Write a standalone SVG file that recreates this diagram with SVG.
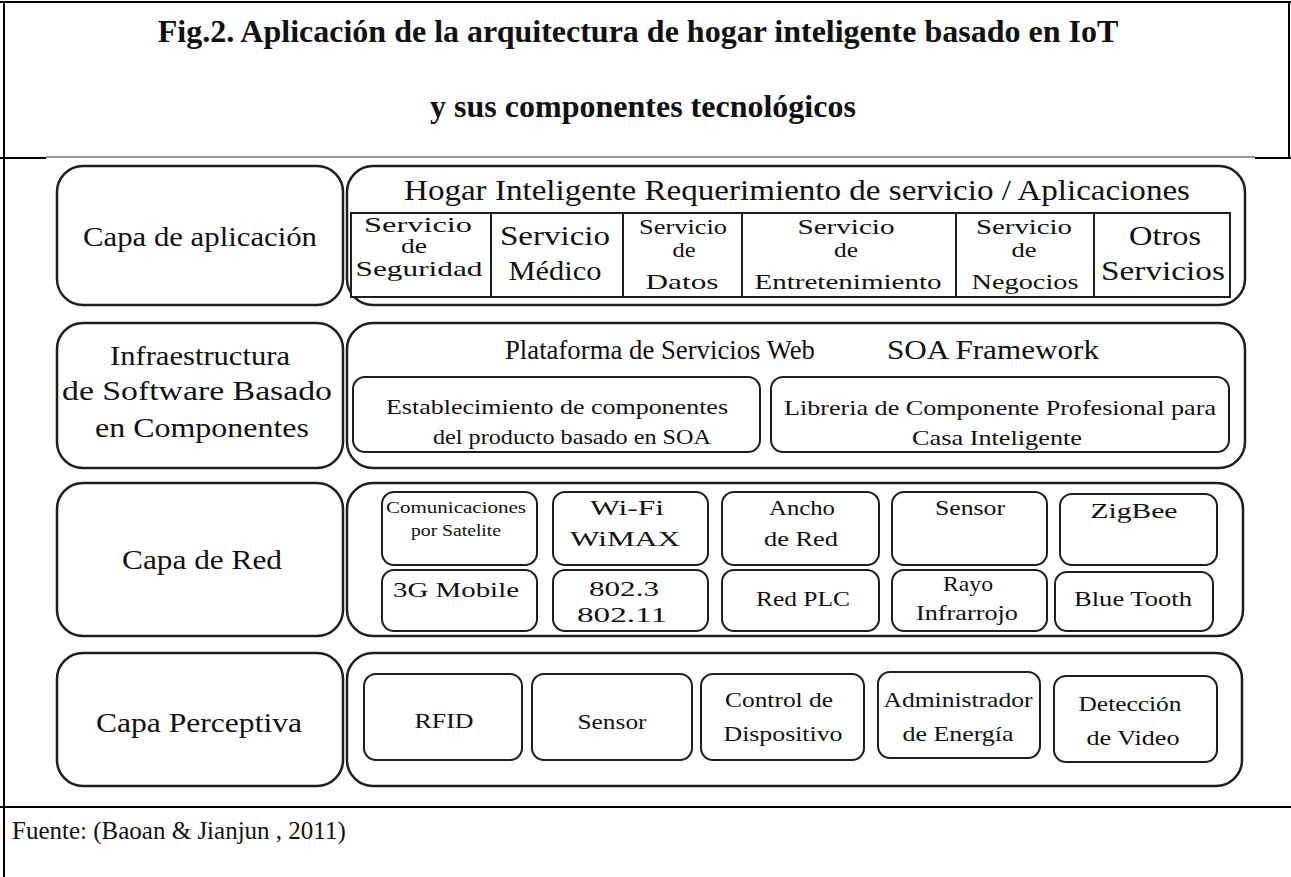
<svg xmlns="http://www.w3.org/2000/svg" width="1291" height="877" viewBox="0 0 1291 877">
<style>
.t{font-family:"Times New Roman","Liberation Serif",Tinos,"DejaVu Serif",serif;fill:#111;text-anchor:middle}
.c{font-family:"Times New Roman","Liberation Serif",Tinos,"DejaVu Serif",serif;fill:#111}
.b{font-weight:bold;font-size:32px}
.L{font-size:28px}
.M{font-size:22px}
.outer{fill:#fff;stroke:#1e1e1e;stroke-width:2.5}
.cell{fill:#fff;stroke:#1e1e1e;stroke-width:2}
.rule{stroke:#000;stroke-width:2}
</style>
<rect width="1291" height="877" fill="#fff"/>
<g id="frame">
<line class="rule" x1="0" y1="2" x2="1291" y2="2"/>
<line class="rule" x1="4" y1="2" x2="4" y2="877"/>
<line class="rule" x1="1289" y1="2" x2="1289" y2="157"/>
<line class="rule" x1="0" y1="158" x2="1291" y2="158"/>
<line class="rule" x1="0" y1="807" x2="1291" y2="807"/>
</g>
<g id="title">
<text class="t b" x="638" y="42">Fig.2. Aplicación de la arquitectura de hogar inteligente basado en IoT</text>
<text class="t b" x="643" y="117">y sus componentes tecnológicos</text>
</g>
<rect x="46" y="157" width="1209" height="640" fill="#fff"/>
<line x1="46" y1="157" x2="1255" y2="157" stroke="#333" stroke-width="1"/>
<g id="layer-app">
<rect class="outer" x="57" y="166" width="286" height="139" rx="26"/>
<text class="t L" x="200" y="246" textLength="234" lengthAdjust="spacingAndGlyphs">Capa de aplicación</text>
<rect class="outer" x="347" y="166" width="898" height="139" rx="26"/>
<text class="t" font-size="29" x="797" y="200" textLength="786" lengthAdjust="spacingAndGlyphs">Hogar Inteligente Requerimiento de servicio / Aplicaciones</text>
<rect class="cell" x="351" y="213" width="879" height="84"/>
<line class="cell" x1="491" y1="213" x2="491" y2="297"/>
<line class="cell" x1="623" y1="213" x2="623" y2="297"/>
<line class="cell" x1="742" y1="213" x2="742" y2="297"/>
<line class="cell" x1="956" y1="213" x2="956" y2="297"/>
<line class="cell" x1="1094" y1="213" x2="1094" y2="297"/>
<text class="t M" x="418" y="232" textLength="108" lengthAdjust="spacingAndGlyphs">Servicio</text>
<text class="t M" x="414" y="253" textLength="26" lengthAdjust="spacingAndGlyphs">de</text>
<text class="t M" x="419" y="276" textLength="127" lengthAdjust="spacingAndGlyphs">Seguridad</text>
<text class="t" font-size="27" x="555" y="245" textLength="110" lengthAdjust="spacingAndGlyphs">Servicio</text>
<text class="t" font-size="27" x="555" y="280" textLength="93" lengthAdjust="spacingAndGlyphs">Médico</text>
<text class="t M" x="683" y="234" textLength="88" lengthAdjust="spacingAndGlyphs">Servicio</text>
<text class="t M" x="684" y="257" textLength="23" lengthAdjust="spacingAndGlyphs">de</text>
<text class="t M" x="682" y="289" textLength="73" lengthAdjust="spacingAndGlyphs">Datos</text>
<text class="t M" x="846" y="234" textLength="97" lengthAdjust="spacingAndGlyphs">Servicio</text>
<text class="t M" x="846" y="257" textLength="24" lengthAdjust="spacingAndGlyphs">de</text>
<text class="t M" x="848" y="289" textLength="187" lengthAdjust="spacingAndGlyphs">Entretenimiento</text>
<text class="t M" x="1024" y="234" textLength="96" lengthAdjust="spacingAndGlyphs">Servicio</text>
<text class="t M" x="1024" y="257" textLength="25" lengthAdjust="spacingAndGlyphs">de</text>
<text class="t M" x="1025" y="289" textLength="107" lengthAdjust="spacingAndGlyphs">Negocios</text>
<text class="t" font-size="27" x="1165" y="245" textLength="72" lengthAdjust="spacingAndGlyphs">Otros</text>
<text class="t" font-size="27" x="1163" y="280" textLength="124" lengthAdjust="spacingAndGlyphs">Servicios</text>
</g>
<g id="layer-software">
<rect class="outer" x="57" y="323" width="286" height="145" rx="26"/>
<text class="t L" x="200" y="365" textLength="180" lengthAdjust="spacingAndGlyphs">Infraestructura</text>
<text class="t L" x="197" y="400" textLength="270" lengthAdjust="spacingAndGlyphs">de Software Basado</text>
<text class="t L" x="202" y="437" textLength="214" lengthAdjust="spacingAndGlyphs">en Componentes</text>
<rect class="outer" x="347" y="323" width="898" height="145" rx="26"/>
<text class="t" font-size="27" x="660" y="359" textLength="310" lengthAdjust="spacingAndGlyphs">Plataforma de Servicios Web</text>
<text class="t" font-size="28" x="993" y="359" textLength="212" lengthAdjust="spacingAndGlyphs">SOA Framework</text>
<rect class="cell" x="353" y="377" width="407" height="75" rx="12"/>
<text class="t M" x="557" y="414" textLength="342" lengthAdjust="spacingAndGlyphs">Establecimiento de componentes</text>
<text class="t M" x="572" y="444" textLength="278" lengthAdjust="spacingAndGlyphs">del producto basado en SOA</text>
<rect class="cell" x="771" y="377" width="458" height="75" rx="12"/>
<text class="t M" x="1000" y="415" textLength="432" lengthAdjust="spacingAndGlyphs">Libreria de Componente Profesional para</text>
<text class="t M" x="997" y="445" textLength="170" lengthAdjust="spacingAndGlyphs">Casa Inteligente</text>
</g>
<g id="layer-network">
<rect class="outer" x="57" y="483" width="286" height="153" rx="26"/>
<text class="t L" x="202" y="569" textLength="160" lengthAdjust="spacingAndGlyphs">Capa de Red</text>
<rect class="outer" x="347" y="483" width="896" height="153" rx="26"/>
<rect class="cell" x="382" y="492" width="155" height="73" rx="12"/>
<text class="t" font-size="17" x="456" y="513" textLength="140" lengthAdjust="spacingAndGlyphs">Comunicaciones</text>
<text class="t" font-size="17" x="456" y="536" textLength="90" lengthAdjust="spacingAndGlyphs">por Satelite</text>
<rect class="cell" x="553" y="492" width="155" height="73" rx="12"/>
<text class="t M" x="627" y="515" textLength="74" lengthAdjust="spacingAndGlyphs">Wi-Fi</text>
<text class="t M" x="625" y="546" textLength="110" lengthAdjust="spacingAndGlyphs">WiMAX</text>
<rect class="cell" x="722" y="492" width="157" height="73" rx="12"/>
<text class="t M" x="802" y="515" textLength="66" lengthAdjust="spacingAndGlyphs">Ancho</text>
<text class="t M" x="801" y="546" textLength="74" lengthAdjust="spacingAndGlyphs">de Red</text>
<rect class="cell" x="892" y="492" width="155" height="73" rx="12"/>
<text class="t M" x="970" y="515" textLength="70" lengthAdjust="spacingAndGlyphs">Sensor</text>
<rect class="cell" x="1060" y="494" width="157" height="71" rx="12"/>
<text class="t M" x="1134" y="518" textLength="87" lengthAdjust="spacingAndGlyphs">ZigBee</text>
<rect class="cell" x="382" y="570" width="155" height="61" rx="12"/>
<text class="t M" x="456" y="597" textLength="126" lengthAdjust="spacingAndGlyphs">3G Mobile</text>
<rect class="cell" x="553" y="570" width="155" height="61" rx="12"/>
<text class="t M" x="624" y="596" textLength="70" lengthAdjust="spacingAndGlyphs">802.3</text>
<text class="t M" x="622" y="622" textLength="90" lengthAdjust="spacingAndGlyphs">802.11</text>
<rect class="cell" x="722" y="570" width="157" height="61" rx="12"/>
<text class="t M" x="803" y="606" textLength="94" lengthAdjust="spacingAndGlyphs">Red PLC</text>
<rect class="cell" x="892" y="570" width="155" height="61" rx="12"/>
<text class="t M" x="968" y="591" textLength="50" lengthAdjust="spacingAndGlyphs">Rayo</text>
<text class="t M" x="967" y="620" textLength="102" lengthAdjust="spacingAndGlyphs">Infrarrojo</text>
<rect class="cell" x="1055" y="572" width="158" height="59" rx="12"/>
<text class="t M" x="1133" y="606" textLength="118" lengthAdjust="spacingAndGlyphs">Blue Tooth</text>
</g>
<g id="layer-perceptive">
<rect class="outer" x="57" y="653" width="286" height="133" rx="26"/>
<text class="t L" x="199" y="732" textLength="206" lengthAdjust="spacingAndGlyphs">Capa Perceptiva</text>
<rect class="outer" x="347" y="653" width="895" height="133" rx="26"/>
<rect class="cell" x="364" y="674" width="158" height="86" rx="12"/>
<text class="t" font-size="20" x="444" y="728" textLength="59" lengthAdjust="spacingAndGlyphs">RFID</text>
<rect class="cell" x="532" y="674" width="160" height="86" rx="12"/>
<text class="t M" x="612" y="729" textLength="69" lengthAdjust="spacingAndGlyphs">Sensor</text>
<rect class="cell" x="701" y="674" width="163" height="86" rx="12"/>
<text class="t M" x="779" y="707" textLength="108" lengthAdjust="spacingAndGlyphs">Control de</text>
<text class="t M" x="783" y="741" textLength="119" lengthAdjust="spacingAndGlyphs">Dispositivo</text>
<rect class="cell" x="878" y="672" width="162" height="86" rx="12"/>
<text class="t M" x="958" y="707" textLength="149" lengthAdjust="spacingAndGlyphs">Administrador</text>
<text class="t M" x="958" y="741" textLength="111" lengthAdjust="spacingAndGlyphs">de Energía</text>
<rect class="cell" x="1054" y="676" width="163" height="86" rx="12"/>
<text class="t M" x="1130" y="711" textLength="103" lengthAdjust="spacingAndGlyphs">Detección</text>
<text class="t M" x="1133" y="745" textLength="93" lengthAdjust="spacingAndGlyphs">de Video</text>
</g>
<g id="caption">
<text class="c" x="12" y="839" font-size="25">Fuente: (Baoan &amp; Jianjun , 2011)</text>
</g>
</svg>
